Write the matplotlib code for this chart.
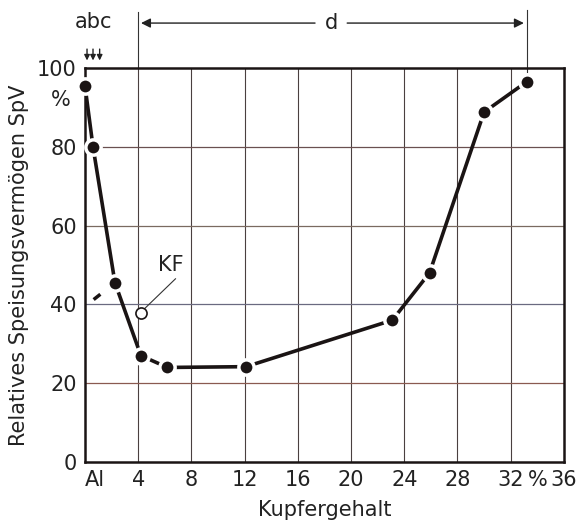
import matplotlib.pyplot as plt
import numpy as np

plt.rcParams['font.family'] = ['DejaVu Sans']

# Kupfergehalt (%) und relatives Speisungsvermoegen (%)
cu = [0.0, 0.6, 2.25, 4.2, 6.2, 12.1, 23.1, 25.9, 30.0, 33.2]
spv = [95.4, 80.0, 45.5, 27.0, 24.0, 24.2, 36.0, 48.0, 88.8, 96.5]
kf_cu, kf_spv = 4.2, 37.7
x_ticks = [0, 4, 8, 12, 16, 20, 24, 28, 32, 36]
x_labels = ['Al', '4', '8', '12', '16', '20', '24', '28', '32', '36']
y_ticks = [0, 20, 40, 60, 80, 100]

fig = plt.figure(figsize=(5.88, 5.21), dpi=100)
ax = fig.add_axes([0.1446, 0.1132, 0.8144, 0.7563])
ax.set_xlim(0, 36)
ax.set_ylim(0, 100)

# grid
for xv in x_ticks[1:-1]:
    ax.axvline(xv, color='#4a4040', lw=0.8, zorder=1)
for yv, c in zip(y_ticks[1:-1], ['#8a5a50', '#6a6a80', '#7a6a60', '#6a5050']):
    ax.axhline(yv, color=c, lw=0.9, zorder=1)

# curve, markers with white edge give the small gaps
ax.plot(cu, spv, color='#1a1414', lw=2.6, zorder=3, solid_capstyle='butt')
ax.plot(cu, spv, 'o', color='#1a1414', ms=11, mec='white', mew=2.5, zorder=4,
        clip_on=False)
ax.plot([kf_cu], [kf_spv], 'o', mfc='white', mec='#1a1414', ms=8, mew=1.2, zorder=5)
ax.plot([0.75, 1.05], [41.5, 42.3], color='#1a1414', lw=2.5, zorder=3)
ax.plot([4.5, 6.8], [39.0, 46.5], color='#333', lw=0.8, zorder=4)
ax.text(5.5, 47.5, 'KF', fontsize=15, ha='left', va='bottom', color='#222')

for sp in ax.spines.values():
    sp.set_linewidth(1.8)
    sp.set_color('#1a1414')

ax.set_xticks(x_ticks)
ax.set_xticklabels(x_labels)
ax.set_yticks(y_ticks)
ax.tick_params(length=0, labelsize=15, colors='#222', pad=6)
ax.get_xticklabels()[0].set_horizontalalignment('left')
ax.annotate('%', xy=(34.0, 0), xycoords=('data', 'axes fraction'),
            xytext=(0, -6), textcoords='offset points',
            fontsize=15, ha='center', va='top', color='#222', annotation_clip=False)
ax.text(-1.1, 92, '%', fontsize=15, ha='right', va='center', color='#222')

ax.set_xlabel('Kupfergehalt', fontsize=15, color='#222', labelpad=7)
ax.set_ylabel('Relatives Speisungsvermögen SpV', fontsize=15, color='#222', labelpad=6)

# range d above the plot
ax.plot([4, 4], [100, 114.3], color='#333', lw=0.8, clip_on=False)
ax.plot([33.2, 33.2], [99, 114.6], color='#333', lw=0.8, clip_on=False)
ax.annotate('', xy=(4, 111.4), xytext=(17.5, 111.4),
            arrowprops=dict(arrowstyle='-|>', color='#222', lw=1.0, mutation_scale=14),
            annotation_clip=False)
ax.annotate('', xy=(33.2, 111.4), xytext=(19.5, 111.4),
            arrowprops=dict(arrowstyle='-|>', color='#222', lw=1.0, mutation_scale=14),
            annotation_clip=False)
ax.text(18.5, 111.4, 'd', fontsize=15, ha='center', va='center', color='#222')

# a, b, c markers
ax.text(0.6, 111.6, 'abc', fontsize=15, ha='center', va='center', color='#222')
for xa in [0.15, 0.6, 1.1]:
    ax.annotate('', xy=(xa, 101.2), xytext=(xa, 105.5),
                arrowprops=dict(arrowstyle='-|>', color='#222', lw=1.0, mutation_scale=8),
                annotation_clip=False)

fig.savefig('out.png', dpi=100)
